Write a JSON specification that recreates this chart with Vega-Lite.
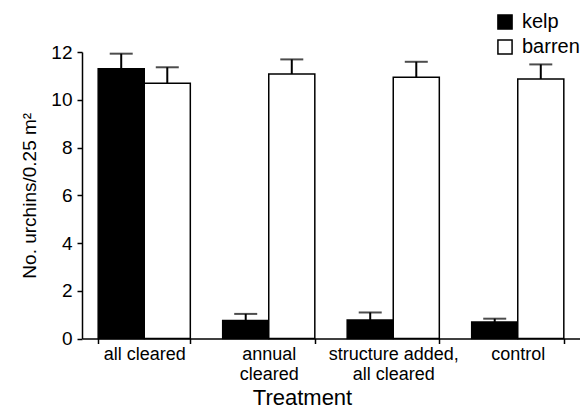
{
  "$schema": "https://vega.github.io/schema/vega-lite/v6.json",
  "autosize": "none",
  "padding": {"left": 82, "top": 52, "right": 0, "bottom": 77},
  "width": 498,
  "height": 286.5,
  "background": "white",
  "config": {
    "view": {"stroke": null},
    "font": "Liberation Sans",
    "axis": {"grid": false, "domainColor": "black", "tickColor": "black", "labelColor": "black", "titleColor": "black", "domainWidth": 1.5, "tickWidth": 1.5, "titleFontWeight": "normal", "labelFont": "Liberation Sans", "titleFont": "Liberation Sans"}
  },
  "data": {
    "values": [
      {"treatment": "all cleared", "habitat": "kelp", "mean": 11.3, "upper": 11.93},
      {"treatment": "all cleared", "habitat": "barren", "mean": 10.69, "upper": 11.36},
      {"treatment": "annual cleared", "habitat": "kelp", "mean": 0.75, "upper": 1.03},
      {"treatment": "annual cleared", "habitat": "barren", "mean": 11.08, "upper": 11.69},
      {"treatment": "structure added, all cleared", "habitat": "kelp", "mean": 0.77, "upper": 1.09},
      {"treatment": "structure added, all cleared", "habitat": "barren", "mean": 10.94, "upper": 11.59},
      {"treatment": "control", "habitat": "kelp", "mean": 0.69, "upper": 0.83},
      {"treatment": "control", "habitat": "barren", "mean": 10.87, "upper": 11.48}
    ]
  },
  "encoding": {
    "x": {
      "field": "treatment", "type": "nominal",
      "sort": ["all cleared", "annual cleared", "structure added, all cleared", "control"],
      "scale": {"paddingInner": 0.26, "paddingOuter": 0.13},
      "axis": {
        "title": "Treatment", "titleFontSize": 22, "titlePadding": 4, "titleX": 220, "titleAlign": "center",
        "labelAngle": 0, "labelFontSize": 18, "labelPadding": 2, "tickSize": 5, "tickBand": "extent",
        "labelLineHeight": 20,
        "labelExpr": "datum.value == 'annual cleared' ? ['annual', 'cleared'] : datum.value == 'structure added, all cleared' ? ['structure added,', 'all cleared'] : datum.label"
      }
    },
    "xOffset": {"field": "habitat", "type": "nominal", "sort": ["kelp", "barren"], "scale": {"paddingInner": 0, "paddingOuter": 0}}
  },
  "layer": [
    {
      "mark": {"type": "bar", "stroke": "black", "strokeWidth": 1.5},
      "encoding": {
        "y": {
          "field": "mean", "type": "quantitative",
          "scale": {"domain": [0, 12], "nice": false},
          "axis": {
            "title": "No. urchins/0.25 m²", "titleFontSize": 19, "titlePadding": 11,
            "values": [0, 1, 2, 3, 4, 5, 6, 7, 8, 9, 10, 11, 12],
            "labelExpr": "datum.value % 2 === 0 ? datum.label : ''",
            "labelFontSize": 19, "labelPadding": 5,
            "tickSize": {"condition": {"test": "datum.value % 2 === 1", "value": 3}, "value": 5}
          }
        },
        "fill": {
          "field": "habitat", "type": "nominal",
          "scale": {"domain": ["kelp", "barren"], "range": ["black", "white"]},
          "legend": {
            "title": null, "orient": "none", "legendX": 413, "legendY": -40,
            "symbolType": "square", "symbolSize": 200, "symbolStrokeColor": "black", "symbolStrokeWidth": 1.5,
            "labelFontSize": 20, "labelColor": "black", "rowPadding": 3, "labelOffset": 7
          }
        }
      }
    },
    {
      "mark": {"type": "rule", "strokeWidth": 2, "color": "black"},
      "encoding": {
        "y": {"field": "mean", "type": "quantitative"},
        "y2": {"field": "upper"}
      }
    },
    {
      "mark": {"type": "tick", "orient": "horizontal", "size": 23, "thickness": 2, "color": "black"},
      "encoding": {
        "y": {"field": "upper", "type": "quantitative"}
      }
    }
  ]
}
